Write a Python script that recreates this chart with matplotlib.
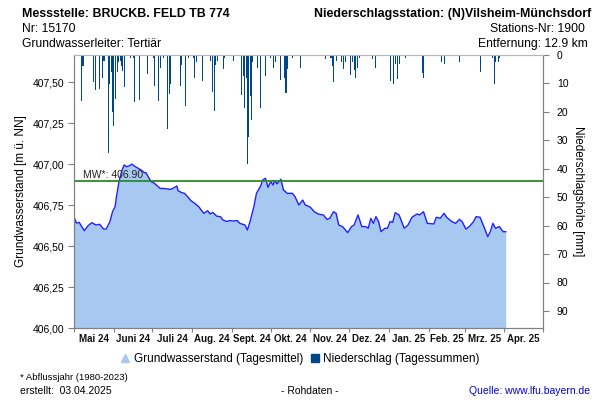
import numpy as np
import matplotlib
matplotlib.use("Agg")
import matplotlib.pyplot as plt
import matplotlib.dates as mdates
from matplotlib.lines import Line2D
from matplotlib.ticker import FixedLocator, FuncFormatter, NullFormatter

plt.rcParams['font.family'] = ['Liberation Sans', 'DejaVu Sans']

# ---------------- data ----------------
start_date = np.datetime64('2024-05-01')
end_date = np.datetime64('2025-05-01')

# groundwater level (days since 2024-05-01, m ü. NN)
gw_day = [0, 2, 4, 6, 8, 11, 14, 17, 20, 23, 25, 28, 30, 32, 33, 35, 37, 39, 41, 43,
          45, 47, 50, 52, 55, 56, 57, 60, 62, 65, 67, 70, 75, 77, 80, 81, 84, 86, 89, 91,
          94, 97, 101, 104, 106, 108, 111, 114, 116, 119, 121, 124, 127, 129, 133, 135, 137, 140, 142, 145,
          147, 149, 151, 153, 155, 156, 158, 161, 163, 166, 170, 172, 175, 178, 180, 182, 184, 187, 190, 194,
          197, 199, 202, 204, 206, 209, 213, 216, 218, 221, 224, 227, 229, 231, 233, 235, 237, 239, 242, 244,
          246, 248, 250, 253, 257, 260, 263, 267, 269, 272, 275, 280, 282, 285, 288, 290, 294, 297, 300, 302,
          305, 308, 311, 313, 316, 319, 322, 324, 326, 328, 331, 333, 334, 336]
gw_level = [406.676, 406.640, 406.645, 406.620, 406.594, 406.625, 406.643, 406.629, 406.633, 406.604,
            406.604, 406.650, 406.710, 406.741, 406.800, 406.893, 406.954, 406.995, 406.985, 406.990,
            407.000, 406.989, 406.975, 406.965, 406.948, 406.948, 406.934, 406.893, 406.887, 406.867,
            406.852, 406.852, 406.846, 406.852, 406.867, 406.838, 406.826, 406.822, 406.797, 406.777,
            406.761, 406.741, 406.700, 406.716, 406.696, 406.706, 406.683, 406.679, 406.659, 406.650,
            406.656, 406.653, 406.656, 406.639, 406.629, 406.598, 406.650, 406.741, 406.822, 406.863,
            406.904, 406.914, 406.859, 406.893, 406.873, 406.900, 406.880, 406.908, 406.843, 406.822,
            406.822, 406.802, 406.751, 406.781, 406.751, 406.745, 406.737, 406.710, 406.696, 406.690,
            406.663, 406.669, 406.710, 406.700, 406.629, 406.619, 406.582, 406.619, 406.629, 406.690,
            406.619, 406.619, 406.609, 406.669, 406.639, 406.680, 406.650, 406.588, 406.609, 406.609,
            406.650, 406.645, 406.704, 406.690, 406.609, 406.629, 406.676, 406.696, 406.690, 406.710,
            406.639, 406.635, 406.676, 406.670, 406.700, 406.676, 406.650, 406.639, 406.663, 406.650,
            406.604, 406.622, 406.650, 406.680, 406.676, 406.619, 406.558, 406.588, 406.639, 406.609,
            406.619, 406.598, 406.588, 406.588]

# daily precipitation (days since 2024-05-01, mm)
rain_day = [2, 6, 7, 15, 17, 20, 22, 23, 24, 27, 28, 29, 30, 31, 32, 34, 35, 36, 37, 38,
            39, 42, 44, 46, 47, 51, 53, 57, 61, 62, 63, 64, 66, 67, 70, 73, 74, 75, 76, 83,
            84, 87, 89, 93, 94, 95, 100, 106, 108, 109, 110, 112, 116, 117, 124, 130, 132, 133, 134, 135,
            136, 137, 138, 139, 143, 145, 147, 149, 153, 155, 157, 161, 163, 164, 165, 166, 170, 176, 190, 196,
            200, 201, 202, 204, 208, 210, 211, 215, 217, 218, 219, 221, 222, 228, 232, 235, 236, 246, 249, 250,
            252, 253, 258, 267, 271, 272, 275, 286, 288, 300, 302, 316, 317, 326, 327, 328, 330, 331, 333]
rain_mm = [0.5, 16.0, 3.8, 9.4, 12.4, 11.8, 8.2, 2.0, 2.0, 34.4, 10.2, 6.0, 20.0, 25.0, 15.5, 6.0, 2.5, 2.0, 3.7, 5.8,
           11.4, 0.5, 1.0, 1.0, 16.7, 15.9, 0.5, 6.7, 0.5, 1.0, 10.8, 0.5, 16.1, 4.5, 1.0, 26.1, 13.8, 10.2, 0.5, 11.0,
           3.5, 17.9, 1.2, 1.0, 8.2, 2.5, 9.0, 2.0, 12.9, 19.6, 3.5, 2.0, 4.8, 1.0, 2.0, 14.1, 7.3, 18.5, 8.0, 38.2,
           28.7, 14.5, 22.9, 2.5, 4.5, 18.5, 0.5, 7.3, 1.0, 4.5, 2.5, 8.7, 0.5, 8.0, 13.4, 5.0, 1.0, 4.7, 0.5, 1.5,
           1.0, 3.8, 9.6, 2.0, 2.5, 4.8, 2.5, 7.0, 2.5, 5.4, 8.0, 4.5, 1.0, 0.5, 1.5, 4.5, 0.5, 9.0, 10.2, 3.0,
           8.5, 3.0, 1.0, 0.3, 6.3, 8.2, 0.5, 2.5, 3.3, 2.5, 0.5, 5.9, 0.5, 1.0, 10.2, 2.5, 2.6, 1.0, 0.5]

month_labels = ['Mai 24', 'Juni 24', 'Juli 24', 'Aug. 24', 'Sept. 24', 'Okt. 24', 'Nov. 24',
                'Dez. 24', 'Jan. 25', 'Feb. 25', 'Mrz. 25', 'Apr. 25']
gw_ticks = [406.00, 406.25, 406.50, 406.75, 407.00, 407.25, 407.50]
rain_ticks = [0, 10, 20, 30, 40, 50, 60, 70, 80, 90]
mw_value = 406.90

# ---------------- figure ----------------
W, H = 600, 400
fig = plt.figure(figsize=(6, 4), dpi=100)
ax = fig.add_axes([74 / W, 1 - 328 / H, 469 / W, 273 / H])

gw_dates = mdates.date2num(start_date + np.array(gw_day).astype('timedelta64[D]'))
rain_dates = mdates.date2num(start_date + np.array(rain_day).astype('timedelta64[D]'))

ax.fill_between(gw_dates, 406.0, gw_level, color='#a7c8f0', lw=0, zorder=1)
ax.plot(gw_dates, gw_level, color='#1f1fff', lw=1.0, zorder=2)
ax.axhline(mw_value, color='#2a8a2a', lw=1.3, zorder=3)
ax.text(mdates.date2num(start_date + np.timedelta64(7, 'D')), mw_value + 0.006,
        'MW*: 406.90', fontsize=7.5, va='bottom', ha='left', color='#222222', zorder=4)

ax.set_xlim(mdates.date2num(start_date), mdates.date2num(end_date))
ax.set_ylim(406.0, 406.0 + 273 / 163.8)

month_starts = np.arange(np.datetime64('2024-05'), np.datetime64('2025-06'), dtype='datetime64[M]').astype('datetime64[D]')
ms_num = mdates.date2num(month_starts)
mid_num = (ms_num[:-1] + ms_num[1:]) / 2
ax.xaxis.set_major_locator(FixedLocator(ms_num))
ax.xaxis.set_major_formatter(NullFormatter())
ax.set_xticks(mid_num, minor=True)
ax.set_xticklabels(month_labels, minor=True)
ax.tick_params(axis='x', which='minor', length=0, pad=4, labelsize=7, colors='#111111')
ax.tick_params(axis='x', which='major', length=3, color='#808080')
for lab in ax.xaxis.get_minorticklabels():
    lab.set_fontweight('bold')

ax.set_yticks(gw_ticks)
ax.yaxis.set_major_formatter(FuncFormatter(lambda v, p: f"{v:.2f}".replace('.', ',')))
ax.tick_params(axis='y', length=4, color='#808080', labelsize=7.5, pad=3)
ax.set_ylabel('Grundwasserstand [m ü. NN]', fontsize=8.5)
ax.yaxis.set_label_coords((27 - 74) / 469, 0.5)

ax2 = ax.twinx()
ax2.bar(rain_dates, rain_mm, width=0.8, color='#00478a', lw=0, align='center')
ax2.set_ylim(96, 0)
ax2.set_yticks(rain_ticks)
ax2.tick_params(axis='y', length=4, color='#808080', labelsize=7.5, pad=6)
ax2.set_ylabel('Niederschlagshöhe [mm]', fontsize=8.5, rotation=-90, va='center')
ax2.yaxis.set_label_coords((578 - 74) / 469, 0.5)
ax2.set_xlim(mdates.date2num(start_date), mdates.date2num(end_date))

for a in (ax, ax2):
    for s in ('left', 'right', 'bottom'):
        a.spines[s].set_color('#808080')
    a.spines['top'].set_color('#b8b8b8')

# legend
handles = [Line2D([], [], ls='', marker='^', markersize=6, color='#a7c8f0'),
           Line2D([], [], ls='', marker='s', markersize=6, color='#00478a')]
fig.legend(handles, ['Grundwasserstand (Tagesmittel)', 'Niederschlag (Tagessummen)'],
           loc='center', bbox_to_anchor=(300 / W, 1 - 359 / H), ncol=2, frameon=False,
           fontsize=8.5, handlelength=0.8, handletextpad=0.3, columnspacing=0.6)

# header
fig.text(22 / W, 1 - 17 / H, 'Messstelle: BRUCKB. FELD TB 774', fontsize=8.9, fontweight='bold', va='baseline')
fig.text(22 / W, 1 - 32 / H, 'Nr: 15170', fontsize=8.7, va='baseline')
fig.text(22 / W, 1 - 47 / H, 'Grundwasserleiter: Tertiär', fontsize=8.7, va='baseline')
fig.text(591 / W, 1 - 17 / H, 'Niederschlagsstation: (N)Vilsheim-Münchsdorf', fontsize=8.9,
         fontweight='bold', va='baseline', ha='right')
fig.text(585 / W, 1 - 32 / H, 'Stations-Nr: 1900', fontsize=8.7, va='baseline', ha='right')
fig.text(588 / W, 1 - 47 / H, 'Entfernung: 12.9 km', fontsize=8.7, va='baseline', ha='right')

# footer
fig.text(20 / W, 1 - 378 / H, '* Abflussjahr (1980-2023)', fontsize=6.8, va='center')
fig.text(20 / W, 1 - 391 / H, 'erstellt:  03.04.2025', fontsize=7.5, va='center')
fig.text(310 / W, 1 - 391 / H, '- Rohdaten -', fontsize=7.5, va='center', ha='center')
fig.text(590 / W, 1 - 391 / H, 'Quelle: www.lfu.bayern.de', fontsize=7.5, va='center', ha='right',
         color='#0000e0')

fig.savefig('out.png', dpi=100)
